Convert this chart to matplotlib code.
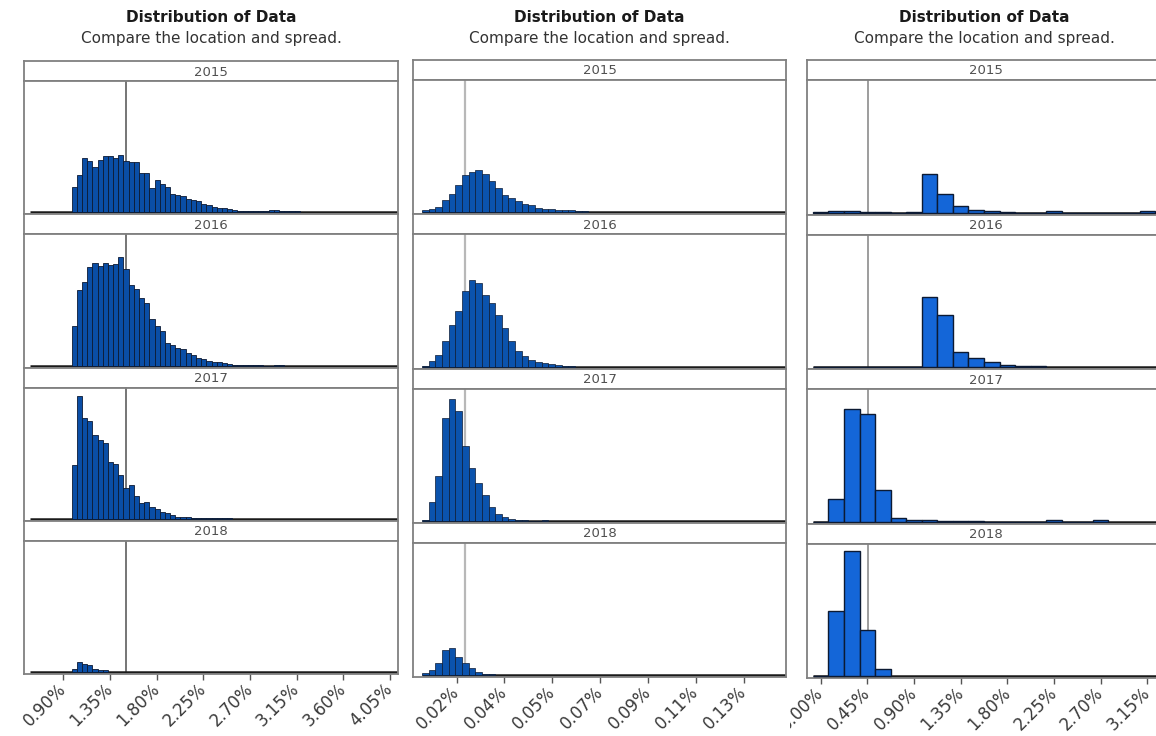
import numpy as np
import matplotlib.pyplot as plt
from matplotlib.transforms import Bbox, TransformedBbox

W, H = 1156, 736

years = ["2015", "2016", "2017", "2018"]

# left column: bins of 0.05 percentage points
c1_bin_start = 0.98
c1_bin_width = 0.05
c1_range_lo = 0.58
c1_2015 = [25, 37, 54, 51, 45, 52, 56, 56, 54, 57, 51, 50, 50, 39, 39, 24, 32, 28, 25, 18,
           17, 16, 13, 12, 11, 8, 7, 5, 4, 4, 3, 2, 1, 1, 1, 1, 1, 1, 2, 2, 1, 1, 1, 1]
c1_2016 = [40, 76, 84, 99, 103, 100, 103, 101, 102, 109, 97, 81, 77, 68, 63, 47, 40, 35, 23, 21,
           18, 17, 13, 11, 8, 7, 5, 4, 4, 3, 2, 1, 1, 1, 1, 1, 1, 0, 0, 1, 1]
c1_2017 = [54, 123, 101, 98, 84, 79, 76, 57, 55, 44, 31, 34, 23, 16, 17, 12, 10, 7, 6, 4,
           2, 2, 2, 1, 1, 1, 0.5, 1, 0.5, 0.5, 0.5]
c1_2018 = [3, 10, 8, 7, 3, 2, 2]
c1_ref = 1.50
c1_ticks = [0.90, 1.35, 1.80, 2.25, 2.70, 3.15, 3.60, 4.05]
c1_labels = ["0.90%", "1.35%", "1.80%", "2.25%", "2.70%", "3.15%", "3.60%", "4.05%"]

# middle column: bins of 0.0025 percentage points
c2_bin_start = 0.005
c2_bin_width = 0.0025
c2_range_lo = 0.005
c2_2015 = [2, 3, 5, 12, 18, 27, 37, 40, 42, 38, 31, 24, 17, 14, 11, 8, 7, 4, 3, 3, 2, 2, 2, 1, 1]
c2_2016 = [1, 6, 12, 26, 42, 56, 76, 86, 83, 72, 64, 52, 39, 26, 16, 11, 7, 5, 4, 3, 2, 1, 1]
c2_2017 = [1, 19, 45, 103, 122, 110, 75, 53, 38, 26, 14, 7, 4, 2, 1, 1, 0, 0, 1]
c2_2018 = [2, 5, 12, 25, 27, 18, 12, 7, 3, 1, 1]
c2_ref = 0.021
c2_ticks = [0.018, 0.036, 0.054, 0.072, 0.090, 0.108, 0.126]
c2_labels = ["0.02%", "0.04%", "0.05%", "0.07%", "0.09%", "0.11%", "0.13%"]

# right column: bins of 0.15 percentage points centred on multiples of 0.15
c3_bin_start = -0.075
c3_bin_width = 0.15
c3_range_lo = -0.075
c3_2015 = [0.5, 1.5, 1.5, 1, 0.5, 0, 1, 39, 19, 7, 3, 2, 1, 0, 0, 1.5, 0, 0, 0, 0, 0, 1.5]
c3_2016 = [0, 0, 0, 0, 0, 0, 0, 70, 52, 15, 9, 5, 2, 1, 1]
c3_2017 = [0, 23, 113, 108, 32, 4, 2, 2, 1, 1, 1, 0, 0, 0, 0, 1.5, 0, 0, 1.5]
c3_2018 = [0, 65, 125, 46, 7]
c3_ref = 0.46
c3_ticks = [0.00, 0.45, 0.90, 1.35, 1.80, 2.25, 2.70, 3.15]
c3_labels = ["0.00%", "0.45%", "0.90%", "1.35%", "1.80%", "2.25%", "2.70%", "3.15%"]

FRAME = "#808080"

fig = plt.figure(figsize=(W / 100, H / 100), dpi=100)
fig.patch.set_facecolor("white")


def px_axes(left, top, width, height):
    return fig.add_axes([left / W, 1 - (top + height) / H, width / W, height / H])


def style_frame(ax):
    for s in ax.spines.values():
        s.set_color(FRAME)
        s.set_linewidth(1.3)


def draw_column(left, right, top, bottom, counts, bin_start, bin_width, range_lo,
                xlim, ref, ref_color, ref_lw, ticks, labels, face, edge_lw, clip_x=None):
    strip_h = 20
    panel_h = (bottom - top - 4 * strip_h) / 4
    width = right - left
    for i, (year, vals) in enumerate(zip(years, counts)):
        y0 = top + i * (strip_h + panel_h)

        sax = px_axes(left, y0, width, strip_h)
        sax.set_xticks([])
        sax.set_yticks([])
        style_frame(sax)
        sax.text(0.5, 0.45, year, transform=sax.transAxes, ha="center", va="center",
                 fontsize=9.5, color="#505050")

        ax = px_axes(left, y0 + strip_h, width, panel_h)
        style_frame(ax)
        edges = bin_start + bin_width * np.arange(len(vals))
        ax.hlines(0, range_lo, xlim[1], color="#1a1a1a", lw=1.8, zorder=2)
        ax.bar(edges, vals, width=bin_width, align="edge", color=face,
               edgecolor="#0c1a33", linewidth=edge_lw, zorder=3)
        ax.axvline(ref, color=ref_color, lw=ref_lw, zorder=1)
        ax.set_xlim(*xlim)
        ax.set_ylim(-2, panel_h - 2)
        ax.set_yticks([])

        if i < 3:
            ax.set_xticks([])
            continue
        ax.set_xticks(ticks, labels)
        ax.tick_params(axis="x", length=4, width=1, color="#555555", pad=5,
                       labelsize=12, labelcolor="#3a3a3a")
        for lbl in ax.get_xticklabels():
            lbl.set_rotation(45)
            lbl.set_ha("right")
            lbl.set_va("center")
            lbl.set_rotation_mode("anchor")
            if clip_x is not None:
                lbl.set_clip_box(TransformedBbox(Bbox.from_extents(clip_x / W, 0, 1, 1),
                                                 fig.transFigure))
                lbl.set_clip_on(True)


draw_column(24, 398, 61, 674, [c1_2015, c1_2016, c1_2017, c1_2018],
            c1_bin_start, c1_bin_width, c1_range_lo, (0.521, 4.128),
            c1_ref, "#6a6a6a", 1.3, c1_ticks, c1_labels, "#0a4ea6", 0.6)

draw_column(413, 786, 60, 677, [c2_2015, c2_2016, c2_2017, c2_2018],
            c2_bin_start, c2_bin_width, c2_range_lo, (0.00155, 0.142),
            c2_ref, "#b8b8b8", 1.6, c2_ticks, c2_labels, "#0b53ad", 0.5)

draw_column(807, 1165, 60, 678, [c3_2015, c3_2016, c3_2017, c3_2018],
            c3_bin_start, c3_bin_width, c3_range_lo, (-0.1315, 3.32),
            c3_ref, "#8c8c8c", 1.2, c3_ticks, c3_labels, "#1466d8", 1.0, clip_x=790)

# titles above each column
for cx in [211, 599, 984]:
    fig.text(cx / W, 1 - 17 / H, "Distribution of Data", ha="center", va="center",
             fontsize=11, fontweight="bold", color="#1a1a1a")
    fig.text(cx / W, 1 - 38 / H, "Compare the location and spread.", ha="center",
             va="center", fontsize=11, color="#333333")

fig.savefig("out.png", dpi=100, facecolor="white")
